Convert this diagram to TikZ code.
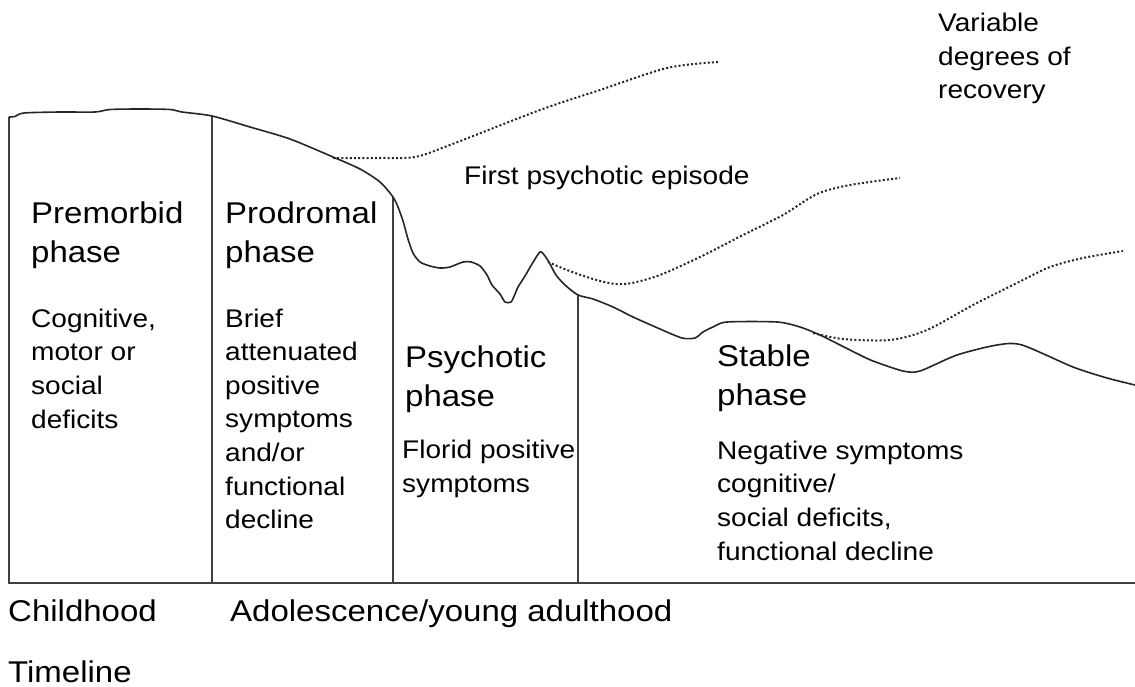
\documentclass[tikz,border=0pt]{standalone}
\usepackage{fontspec}
\setmainfont[FakeStretch=1.1]{Liberation Sans}
\begin{document}
\begin{tikzpicture}[x=1pt,y=-1pt,
  heading/.style={font=\fontsize{30}{39}\selectfont, anchor=base west, inner sep=0pt, align=left},
  note/.style={font=\fontsize{25.5}{33.6}\selectfont, anchor=base west, inner sep=0pt, align=left},
  course/.style={line width=1.6pt, draw=black!85, line join=round},
  divider/.style={line width=1.1pt, draw=black!75},
  recovery/.style={line width=2pt, draw=black!85, dash pattern=on 2pt off 2.2pt}]
\useasboundingbox (0,0) rectangle (1135,687);

% phase boundaries and time axis
\coordinate (axisL) at (8,583);
\coordinate (axisR) at (1135,583);
\coordinate (b0top) at (9,117);   \coordinate (b0bot) at (9,583);
\coordinate (b1top) at (212,116); \coordinate (b1bot) at (212,583);
\coordinate (b2top) at (393,197); \coordinate (b2bot) at (393,583);
\coordinate (b3top) at (578,295); \coordinate (b3bot) at (578,583);
\draw[divider] (axisL) -- (axisR);
\draw[divider] (b0top) -- (b0bot);
\draw[divider] (b1top) -- (b1bot);
\draw[divider] (b2top) -- (b2bot);
\draw[divider] (b3top) -- (b3bot);

% course of functioning
\draw[course] plot[smooth, tension=0.45] coordinates {
  (9,117) (15,116.5) (24,113) (60,112) (95,112) (110,109.5) (140,109) (170,109.5)
  (182,112) (212,116) (250,127) (290,139) (333,157) (360,169) (380,182)
  (393,197) (398,207) (403,221) (408,239) (413,253) (420,262) (430,266)
  (440,268) (450,267) (463,262) (471,262) (480,266) (487,275) (492,285)
  (500,294) (505,302) (511,302) (515,294) (518,287) (525,276) (532,264)
  (540,252) (545,256) (550,264) (556,275) (565,285) (578,295) (593,299)
  (613,307) (633,317) (660,329) (682,338) (695,338) (703,332) (713,327)
  (727,322) (777,322) (800,327) (820,335) (840,345) (860,355) (873,361)
  (903,371) (920,371) (957,355) (997,345) (1022,345) (1073,367) (1107,378)
  (1135,385)};

% recovery trajectories
\draw[recovery] plot[smooth, tension=0.5] coordinates {
  (333,158) (380,158) (415,157) (450,145) (540,110) (600,90) (667,68) (718,62)};
\draw[recovery] plot[smooth, tension=0.5] coordinates {
  (548,262) (567,270) (593,279) (615,284) (632,283) (660,275) (700,257)
  (743,235) (783,215) (817,194) (850,185) (900,178)};
\draw[recovery] plot[smooth, tension=0.5] coordinates {
  (813,333) (843,339) (890,340) (927,330) (973,305) (1017,283) (1050,267)
  (1083,258) (1123,251)};

% phase labels (placed at the baseline of their last line)
\node[heading] (premH) at (31,262) {Premorbid\\phase};
\node[note]    (premD) at (31,428) {Cognitive,\\motor or\\social\\deficits};
\node[heading] (prodH) at (225,262) {Prodromal\\phase};
\node[note]    (prodD) at (225,528.6) {Brief\\attenuated\\positive\\symptoms\\and/or\\functional\\decline};
\node[heading] (psyH)  at (405,406) {Psychotic\\phase};
\node[note]    (psyD)  at (402,492) {Florid positive\\symptoms};
\node[heading] (stabH) at (717,405) {Stable\\phase};
\node[note]    (stabD) at (717,560) {Negative symptoms\\cognitive/\\social deficits,\\functional decline};

% annotations
\node[note] (episode)  at (464,185) {First psychotic episode};
\node[note] (variable) at (938,99) {Variable\\degrees of\\recovery};

% timeline
\node[heading] (child) at (8,621) {Childhood};
\node[heading] (adol)  at (230,621) {Adolescence/young adulthood};
\node[heading] (time)  at (8,682) {Timeline};
\end{tikzpicture}
\end{document}
